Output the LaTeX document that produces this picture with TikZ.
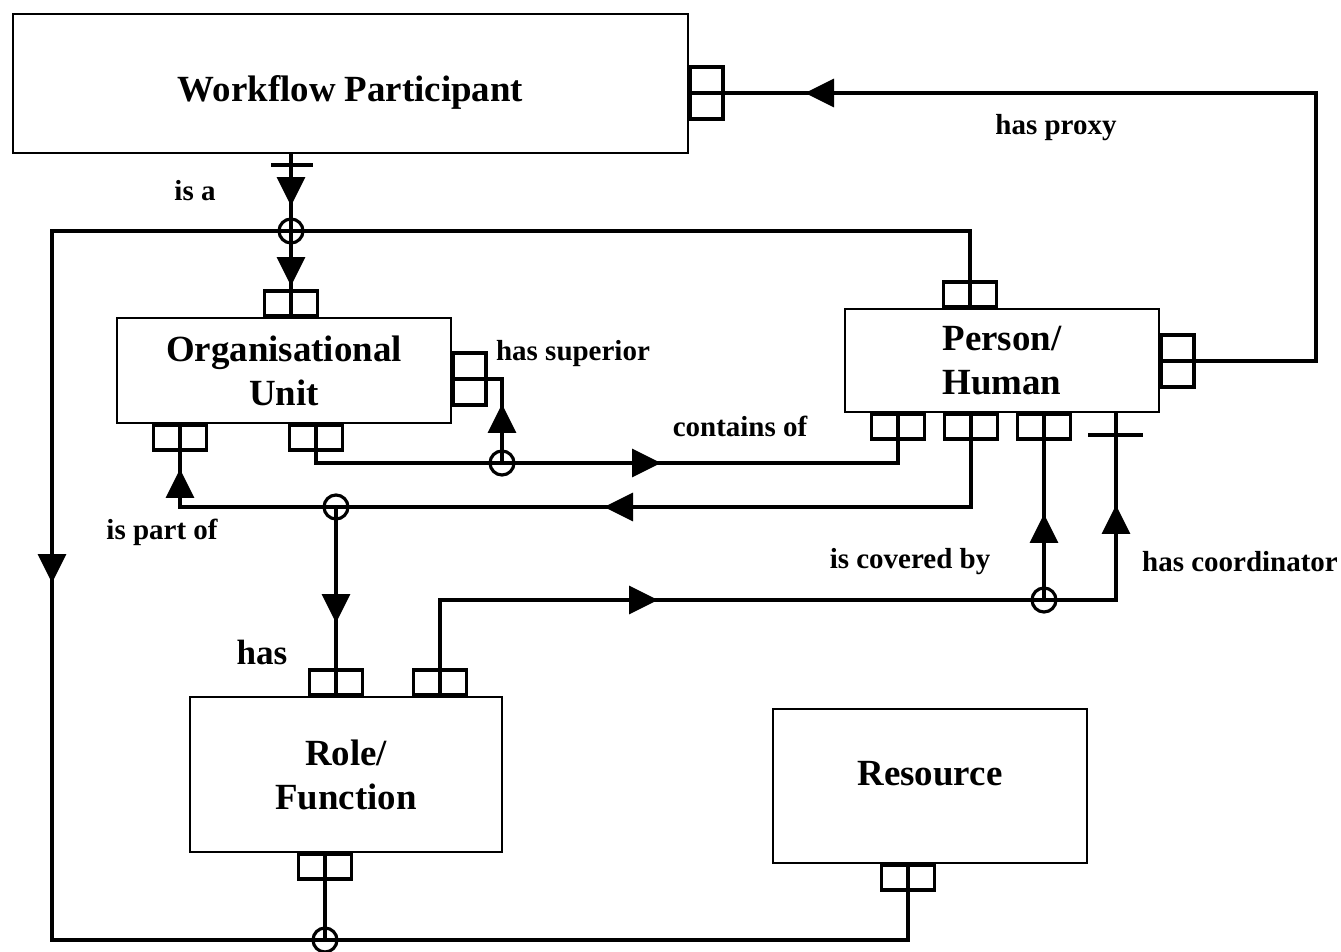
\documentclass[tikz,border=0pt]{standalone}
\usepackage{fontspec}
\setmainfont{Liberation Serif}
\usetikzlibrary{arrows.meta}

\tikzset{
  entity/.style={draw, line width=0.9pt, inner sep=0pt, align=center,
    font=\bfseries\fontsize{21}{25}\selectfont},
  portv/.style={draw, line width=2pt, minimum width=1.06cm, minimum height=0.5cm, inner sep=0pt},
  porth/.style={draw, line width=2pt, minimum width=0.66cm, minimum height=1.04cm, inner sep=0pt},
  junction/.style={draw, circle, line width=1.8pt, minimum size=0.48cm, inner sep=0pt},
  link/.style={line width=2pt},
  tip/.style={line width=2pt, -{Triangle[width=0.56cm,length=0.58cm]}},
  rel/.style={font=\bfseries\fontsize{16.5}{19}\selectfont}
}

\begin{document}
\begin{tikzpicture}[x=0.02cm, y=-0.02cm]
        \useasboundingbox (0,0) rectangle (1341,952);

        % entities
        \node [entity, minimum width=13.5cm, minimum height=2.78cm, text height=0.88cm]
          (wp) at (350.5,83.5) {Workflow Participant};
        \node [entity, minimum width=6.68cm, minimum height=2.1cm]
          (ou) at (284,370.5) {Organisational\\Unit};
        \node [entity, minimum width=6.28cm, minimum height=2.06cm]
          (ph) at (1002,360.5) {Person/\\Human};
        \node [entity, minimum width=6.24cm, minimum height=3.1cm]
          (rf) at (346,774.5) {Role/\\Function};
        \node [entity, minimum width=6.28cm, minimum height=3.08cm, text depth=0.52cm]
          (rs) at (930,786) {Resource};

        % ports
        \node [porth, anchor=west] (wpR) at (688,93) {};
        \node [portv, anchor=south] (ouT) at (291,318) {};
        \node [porth, anchor=west] (ouR) at (451,379) {};
        \node [portv, anchor=north] (ouB1) at (180,423) {};
        \node [portv, anchor=north] (ouB2) at (316,423) {};
        \node [portv, anchor=south] (phT) at (970,309) {};
        \node [porth, anchor=west] (phR) at (1159,361) {};
        \node [portv, anchor=north] (phB1) at (898,412) {};
        \node [portv, anchor=north] (phB2) at (971,412) {};
        \node [portv, anchor=north] (phB3) at (1044,412) {};
        \node [portv, anchor=south] (rfT1) at (336,697) {};
        \node [portv, anchor=south] (rfT2) at (440,697) {};
        \node [portv, anchor=north] (rfB) at (325,852) {};
        \node [portv, anchor=north] (rsB) at (908,863) {};

        % junctions
        \node [junction] (jA) at (291,231) {};
        \node [junction] (jB) at (502,463) {};
        \node [junction] (jC) at (336,507) {};
        \node [junction] (jD) at (1044,600) {};
        \node [junction] (jE) at (325,940) {};

        % corners and free ends
        \coordinate (wpB) at (291,153);
        \coordinate (phC) at (1116,412);
        \coordinate (cTL) at (52,231);
        \coordinate (cBL) at (52,940);
        \coordinate (cTR) at (1316,93);

        % is a
        \draw [link] (wpB) -- (ouT.south);
        \draw [link] (271,165) -- (313,165);

        % the loop round the left
        \draw [link] (phT.south) |- (cTL) -- (cBL) -| (rsB.north);
        \draw [link] (rfB.north) -- (jE.center);

        % has superior
        \draw [link] (ouR.west) -| (jB.center);

        % contains of
        \draw [link] (ouB2.north) |- (jB.center) -| (phB1.north);

        % is part of, has
        \draw [link] (ouB1.north) |- (jC.center) -| (phB2.north);
        \draw [link] (jC.center) -- (rfT1.south);

        % is covered by, has coordinator
        \draw [link] (rfT2.south) |- (jD.center) -| (phC);
        \draw [link] (phB3.north) -- (jD.center);
        \draw [link] (1088,435) -- (1143,435);

        % has proxy
        \draw [link] (phR.west) -| (cTR) -- (wpR.west);

        % arrow heads
        \draw [tip] (291,170) -- (291,206);
        \draw [tip] (291,250) -- (291,286);
        \draw [tip] (502,436) -- (502,404);
        \draw [tip] (625,463) -- (661,463);
        \draw [tip] (180,502) -- (180,469);
        \draw [tip] (336,588) -- (336,623);
        \draw [tip] (640,507) -- (604,507);
        \draw [tip] (52,548) -- (52,583);
        \draw [tip] (840,93) -- (805,93);
        \draw [tip] (1044,546) -- (1044,514);
        \draw [tip] (1116,538) -- (1116,505);
        \draw [tip] (622,600) -- (658,600);

        % relation names
        \node [rel] (lIsA) at (195,191) {is a};
        \node [rel] (lSup) at (573,354) {has superior};
        \node [rel] (lCont) at (740,426) {contains of};
        \node [rel] (lProxy) at (1056,128) {has proxy};
        \node [rel] (lPart) at (162,532) {is part of};
        \node [rel] (lCov) at (910,562) {is covered by};
        \node [rel] (lCoord) at (1240,562) {has coordinator};
        \node [rel, font=\bfseries\fontsize{20}{24}\selectfont] (lHas) at (262,652) {has};

      \end{tikzpicture}
\end{document}
